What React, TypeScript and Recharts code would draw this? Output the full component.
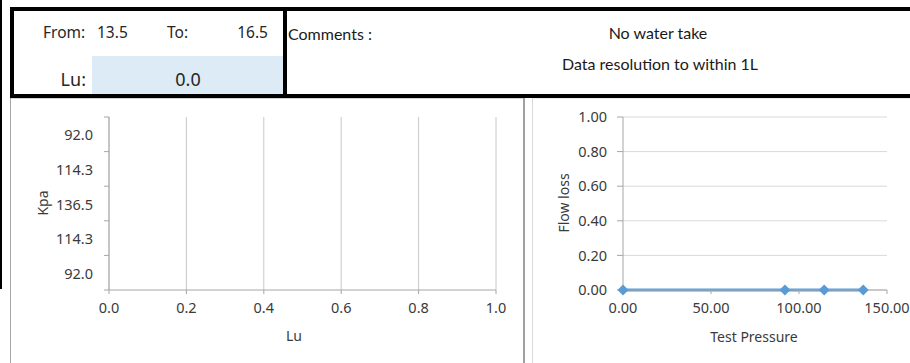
import React from 'react';
import { BarChart, Bar, XAxis, YAxis, CartesianGrid, LineChart, Line } from 'recharts';

// ---- header values ----
const fromValue = 13.5;
const toValue = 16.5;
const luResult = 0.0;
const commentLines = ['No water take', 'Data resolution to within 1L'];

// ---- left chart (Kpa vs Lu) ----
const kpaCategories = ['92.0', '114.3', '136.5', '114.3', '92.0'];
const luValues = [0, 0, 0, 0, 0];
const luTicks = [0, 0.2, 0.4, 0.6, 0.8, 1.0];

// ---- right chart (Flow loss vs Test Pressure) ----
const testPressure = [0, 92.0, 114.3, 136.5];
const flowLoss = [0, 0, 0, 0];
const pressureTicks = [0, 50, 100, 150];
const flowTicks = [0, 0.2, 0.4, 0.6, 0.8, 1.0];

const leftData = kpaCategories.map((c, i) => ({ idx: String(i), kpa: c, lu: luValues[i] }));
const rightData = testPressure.map((p, i) => ({ p, loss: flowLoss[i] }));

const TICK_FONT = "'Noto Sans', 'Open Sans', sans-serif";
const TICK_COLOR = '#3a3a3a';
const AXIS_COLOR = '#a6a6a6';
const GRID_COLOR = '#d9d9d9';

const KpaTick = (props: any) => {
  const { x, y, payload, index, visibleTicksCount } = props;
  const half = payload && payload.offset != null ? payload.offset : 17.3;
  const axisX = x + 16;
  const label = kpaCategories[index] ?? payload.value;
  return (
    <g>
      <line x1={axisX - 5} x2={axisX} y1={y - half} y2={y - half} stroke={AXIS_COLOR} />
      {index === visibleTicksCount - 1 ? (
        <line x1={axisX - 5} x2={axisX} y1={y + half} y2={y + half} stroke={AXIS_COLOR} />
      ) : null}
      <text x={x} y={y} textAnchor="end" dominantBaseline="central" fontFamily={TICK_FONT} fontSize={14.5} fill={TICK_COLOR}>
        {label}
      </text>
    </g>
  );
};

const Diamond = (props: any) => {
  const { cx, cy, index } = props;
  if (cx == null || cy == null) return <g key={`d${index}`} />;
  const r = 5.5;
  return (
    <polygon
      key={`d${index}`}
      points={`${cx},${cy - r} ${cx + r},${cy} ${cx},${cy + r} ${cx - r},${cy}`}
      fill="#5B9BD5"
    />
  );
};

const tickStyle = { fontFamily: TICK_FONT, fontSize: 14.5, fill: TICK_COLOR };

export default function App() {
  return (
    <div style={{ position: 'fixed', left: 0, top: 0, width: 910, height: 363, overflow: 'hidden', background: '#fff' }}>
      <svg width={910} height={363} style={{ position: 'absolute', left: 0, top: 0 }}>
        {/* left black edge */}
        <rect x={0} y={0} width={2} height={289} fill="#000" />
        {/* chart panels */}
        <rect x={10.5} y={98} width={514} height={280} fill="none" stroke="#a6a6a6" strokeWidth={1} />
        <line x1={524} x2={524} y1={98} y2={363} stroke="#a0a0a0" strokeWidth={2} />
        <rect x={532.5} y={98} width={400} height={280} fill="none" stroke="#d9d9d9" strokeWidth={1} />
        {/* blue Lu cell */}
        <rect x={92} y={56} width={191} height={38} fill="#DDEBF7" />
        {/* header box */}
        <rect x={12} y={9} width={920} height={87} fill="none" stroke="#000" strokeWidth={4} />
        <line x1={285} x2={285} y1={9} y2={96} stroke="#000" strokeWidth={4} />
        {/* header texts */}
        <g fontFamily={TICK_FONT} fill="#262626">
          <text x={43} y={32} fontSize={15.5} dominantBaseline="central">From:</text>
          <text x={97} y={32} fontSize={15.5} dominantBaseline="central">{fromValue.toFixed(1)}</text>
          <text x={167} y={32} fontSize={15.5} dominantBaseline="central">To:</text>
          <text x={268} y={32} fontSize={15.5} dominantBaseline="central" textAnchor="end">{toValue.toFixed(1)}</text>
          <text x={86} y={79} fontSize={18} dominantBaseline="central" textAnchor="end">Lu:</text>
          <text x={188} y={79} fontSize={18} dominantBaseline="central" textAnchor="middle">{luResult.toFixed(1)}</text>
        </g>
        <g fontFamily="Lato, 'Noto Sans', sans-serif" fill="#1a1a1a" fontSize={16}>
          <text x={288} y={33} dominantBaseline="central">Comments :</text>
          <text x={658} y={32} dominantBaseline="central" textAnchor="middle">{commentLines[0]}</text>
          <text x={660} y={63} dominantBaseline="central" textAnchor="middle">{commentLines[1]}</text>
        </g>
        {/* axis titles */}
        <g fontFamily={TICK_FONT} fill={TICK_COLOR} fontSize={14}>
          <text x={42} y={203} dominantBaseline="central" textAnchor="middle" transform="rotate(-90 42 203)">Kpa</text>
          <text x={294} y={335} dominantBaseline="central" textAnchor="middle">Lu</text>
          <text x={563} y={203} dominantBaseline="central" textAnchor="middle" transform="rotate(-90 563 203)">Flow loss</text>
          <text x={754} y={336} dominantBaseline="central" textAnchor="middle">Test Pressure</text>
        </g>
      </svg>

      <div style={{ position: 'absolute', left: 10, top: 98 }}>
        <BarChart
          width={514}
          height={265}
          data={leftData}
          layout="vertical"
          margin={{ top: 19, right: 28, bottom: 43, left: 39 }}
        >
          <CartesianGrid horizontal={false} vertical={true} stroke="#c8c8c8" strokeWidth={1} />
          <XAxis
            type="number"
            dataKey="lu"
            domain={[0, 1]}
            ticks={luTicks}
            tickFormatter={(v: number) => v.toFixed(1)}
            height={30}
            tickSize={4}
            tickMargin={9}
            stroke={AXIS_COLOR}
            tick={tickStyle}
            interval={0}
            allowDecimals
          />
          <YAxis
            type="category"
            dataKey="idx"
            width={60}
            tickLine={false}
            tickSize={5}
            tickMargin={11}
            stroke={AXIS_COLOR}
            tick={<KpaTick />}
            interval={0}
          />
          <Bar dataKey="lu" fill="#5B9BD5" isAnimationActive={false} />
        </BarChart>
      </div>

      <div style={{ position: 'absolute', left: 533, top: 98 }}>
        <LineChart
          width={377}
          height={265}
          data={rightData}
          margin={{ top: 19, right: 23, bottom: 43, left: 40 }}
        >
          <CartesianGrid horizontal={true} vertical={false} stroke={GRID_COLOR} strokeWidth={1} />
          <XAxis
            type="number"
            dataKey="p"
            domain={[0, 150]}
            ticks={pressureTicks}
            tickFormatter={(v: number) => v.toFixed(2)}
            height={30}
            tickSize={4}
            tickMargin={9}
            stroke={AXIS_COLOR}
            tick={tickStyle}
            interval={0}
          />
          <YAxis
            type="number"
            domain={[0, 1]}
            ticks={flowTicks}
            tickFormatter={(v: number) => v.toFixed(2)}
            width={50}
            tickSize={6}
            tickMargin={10}
            stroke={AXIS_COLOR}
            tick={tickStyle}
            interval={0}
          />
          <Line
            type="linear"
            dataKey="loss"
            stroke="#5B9BD5"
            strokeWidth={3}
            dot={Diamond}
            activeDot={false}
            isAnimationActive={false}
          />
        </LineChart>
      </div>
    </div>
  );
}
